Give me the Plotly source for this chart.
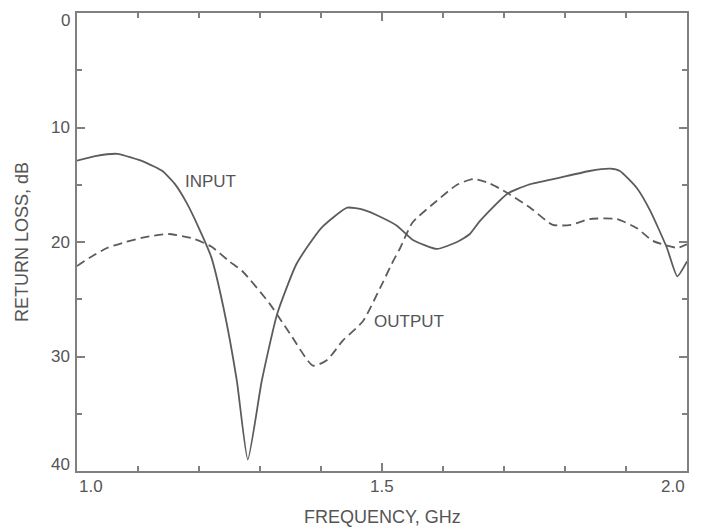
import plotly.graph_objects as go

# ---- data ----
input_freq = [1.00, 1.03, 1.066, 1.11, 1.14, 1.16, 1.18, 1.20, 1.22, 1.24, 1.262, 1.28,
              1.303, 1.328, 1.36, 1.40, 1.443, 1.47, 1.497, 1.525, 1.55, 1.59, 1.623,
              1.644, 1.66, 1.705, 1.74, 1.79, 1.84, 1.874, 1.89, 1.918, 1.94, 1.967,
              1.984, 2.00]
input_rl = [12.9, 12.5, 12.3, 13.0, 13.8, 14.9, 16.6, 18.8, 21.3, 25.7, 32.1, 39.0,
            32.1, 26.3, 21.9, 18.8, 17.0, 17.2, 17.8, 18.6, 19.8, 20.6, 20.0,
            19.3, 18.2, 15.8, 15.0, 14.4, 13.8, 13.6, 13.8, 15.3, 17.3, 20.5,
            23.0, 21.7]

output_freq = [1.00, 1.02, 1.05, 1.08, 1.11, 1.15, 1.19, 1.22, 1.25, 1.272, 1.316, 1.349,
               1.387, 1.41, 1.436, 1.469, 1.497, 1.518, 1.53, 1.55, 1.59, 1.623, 1.65,
               1.677, 1.705, 1.743, 1.78, 1.81, 1.84, 1.885, 1.918, 1.944, 1.984, 2.00]
output_rl = [22.1, 21.4, 20.5, 20.0, 19.6, 19.3, 19.7, 20.4, 21.7, 22.6, 25.4, 28.0,
             30.8, 30.3, 28.6, 26.9, 24.0, 21.7, 20.5, 18.3, 16.4, 15.0, 14.5,
             14.9, 15.7, 17.0, 18.5, 18.5, 18.0, 18.0, 18.8, 19.9, 20.5, 20.2]

x_tick_vals = [1.0, 1.5, 2.0]
x_tick_text = ["1.0", "1.5", "2.0"]
y_tick_vals = [0, 10, 20, 30, 40]
y_tick_text = ["0", "10", "20", "30", "40"]

x_title = "FREQUENCY, GHz"
y_title = "RETURN LOSS, dB"
series_labels = ["INPUT", "OUTPUT"]
label_pos = [(1.174, 14.7), (1.484, 26.9)]

# ---- styling ----
FONT = "Liberation Sans, Arial, sans-serif"
TXT = "#555555"
LINE = "#5c5c5c"
AXIS = "#808080"
FS = 17
FS_TITLE = 18

fig = go.Figure()
fig.add_trace(go.Scatter(x=input_freq, y=input_rl, mode="lines", name=series_labels[0],
                         line=dict(color=LINE, width=1.8, shape="spline", smoothing=0.5)))
fig.add_trace(go.Scatter(x=output_freq, y=output_rl, mode="lines", name=series_labels[1],
                         line=dict(color=LINE, width=1.8, dash="9px,5px",
                                   shape="spline", smoothing=0.6)))

axis_common = dict(showline=True, linecolor=AXIS, linewidth=2, mirror="ticks",
                   ticks="inside", ticklen=8, tickwidth=1.5, tickcolor=AXIS,
                   showgrid=False, zeroline=False, showticklabels=False)

fig.update_xaxes(range=[1.0, 2.0], tickvals=x_tick_vals,
                 minor=dict(ticks="inside", dtick=0.1, ticklen=5, tickwidth=1.5,
                            tickcolor=AXIS, showgrid=False),
                 **axis_common)
fig.update_yaxes(range=[40, 0], tickvals=y_tick_vals,
                 minor=dict(ticks="inside", dtick=5, ticklen=5, tickwidth=1.5,
                            tickcolor=AXIS, showgrid=False),
                 **axis_common)

ann = []
for i, (v, t) in enumerate(zip(x_tick_vals, x_tick_text)):
    xa = "left" if i == 0 else ("right" if i == len(x_tick_vals) - 1 else "center")
    ann.append(dict(x=v, y=0, xref="x", yref="paper", text=t, showarrow=False,
                    xanchor=xa, yanchor="top", yshift=-4,
                    font=dict(family=FONT, size=FS, color=TXT)))
for i, (v, t) in enumerate(zip(y_tick_vals, y_tick_text)):
    if i == 0:
        ya, ys = "top", 4
    elif i == len(y_tick_vals) - 1:
        ya, ys = "bottom", -5
    else:
        ya, ys = "middle", 0
    ann.append(dict(x=0, y=v, xref="paper", yref="y", text=t, showarrow=False,
                    xanchor="right", yanchor=ya, xshift=-5, yshift=ys,
                    font=dict(family=FONT, size=FS, color=TXT)))
for lab, (lx, ly) in zip(series_labels, label_pos):
    ann.append(dict(x=lx, y=ly, xref="x", yref="y", text=lab, showarrow=False,
                    xanchor="left", yanchor="middle",
                    font=dict(family=FONT, size=FS, color=TXT)))
ann.append(dict(x=0.5, y=0, xref="paper", yref="paper", text=x_title, showarrow=False,
                xanchor="center", yanchor="top", yshift=-34,
                font=dict(family=FONT, size=FS_TITLE, color=TXT)))
ann.append(dict(x=0, y=0.5, xref="paper", yref="paper", text=y_title, showarrow=False,
                xanchor="center", yanchor="middle", xshift=-55, textangle=-90,
                font=dict(family=FONT, size=FS_TITLE, color=TXT)))

fig.update_layout(width=702, height=529, autosize=False,
                  margin=dict(l=77, r=15, t=11, b=58),
                  paper_bgcolor="white", plot_bgcolor="white",
                  showlegend=False, annotations=ann,
                  font=dict(family=FONT, size=FS, color=TXT))

fig.write_html("out.html")
